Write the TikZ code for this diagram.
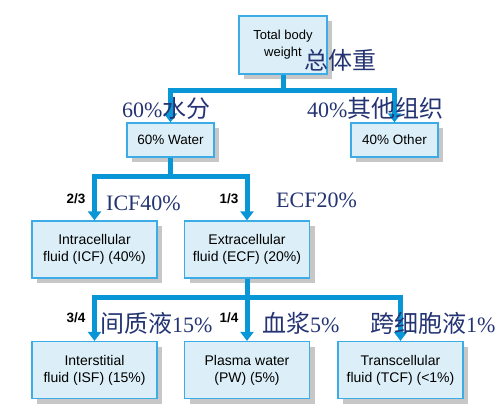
\documentclass[tikz,border=0pt]{standalone}
\usepackage{fontspec}
\setmainfont{Liberation Serif}
\setsansfont{Liberation Sans}
\newfontfamily\cjk[Scale=1.09]{Noto Sans CJK SC}
\usetikzlibrary{arrows.meta,shadows}
\definecolor{linkblue}{RGB}{8,150,215}
\definecolor{boxline}{RGB}{60,172,230}
\definecolor{boxfill}{RGB}{220,239,248}
\definecolor{zhnavy}{RGB}{36,52,115}
\tikzset{
  fluid/.style={
    draw=boxline, line width=1.2pt, fill=boxfill,
    align=center, inner sep=2pt,
    font=\sffamily\fontsize{14}{17}\selectfont,
    drop shadow={shadow xshift=5pt, shadow yshift=-5pt, fill=black!22, opacity=1}
  },
  small fluid/.style={fluid, minimum width=87pt, minimum height=34pt,
    font=\sffamily\fontsize{13.5}{17}\selectfont},
  big fluid/.style={fluid, minimum width=125pt, minimum height=57pt},
  split/.style={draw=linkblue, line width=5pt, -{Triangle[width=13pt,length=9pt]}},
  ratio/.style={inner sep=0pt, font=\sffamily\bfseries\fontsize{13.5}{13.5}\selectfont},
  zh/.style={text=zhnavy, anchor=west, inner sep=0pt, font=\fontsize{22}{22}\selectfont}
}

\begin{document}
\begin{tikzpicture}[x=1pt,y=-1pt]
\useasboundingbox (0,0) rectangle (498,408);
% boxes
\node[fluid, minimum width=88pt, minimum height=58pt,
  font=\sffamily\fontsize{13}{17}\selectfont] (total) at (283,45) {Total body\\weight};
\node[small fluid] (water) at (170.5,140) {60\% Water};
\node[small fluid] (other) at (394.5,140) {40\% Other};
\node[big fluid] (icf) at (94.5,249.5) {Intracellular\\fluid (ICF) (40\%)};
\node[big fluid] (ecf) at (247,249.5) {Extracellular\\fluid (ECF) (20\%)};
\node[big fluid] (isf) at (94.5,370) {Interstitial\\fluid (ISF) (15\%)};
\node[big fluid] (pw) at (247,370) {Plasma water\\(PW) (5\%)};
\node[big fluid] (tcf) at (400.5,370) {Transcellular\\fluid (TCF) (<1\%)};
% splits
\draw[split] (total.south) -- ++(0,16) -| (water.north);
\draw[split] (total.south) -- ++(0,16) -| (other.north);
\draw[split] (water.south) -- ++(0,19) -| (icf.north);
\draw[split] (water.south) -- ++(0,19) -| (ecf.north);
\draw[split] (ecf.south) -- ++(0,19) -| (isf.north);
\draw[split] (ecf.south) -- ++(0,19) -| (pw.north);
\draw[split] (ecf.south) -- ++(0,19) -| (tcf.north);
% ratios
\node[ratio] (r23) at (76,199) {2/3};
\node[ratio] (r13) at (229,199) {1/3};
\node[ratio] (r34) at (76,318) {3/4};
\node[ratio] (r14) at (229,318) {1/4};
% chinese notes
\node[zh] (zhtotal) at (304,60) {{\cjk 总体重}};
\node[zh] (zhwater) at (122,108) {60\%{\cjk 水分}};
\node[zh] (zhother) at (307,108) {40\%{\cjk 其他组织}};
\node[zh] (zhicf) at (106,203) {ICF40\%};
\node[zh] (zhecf) at (276,200) {ECF20\%};
\node[zh] (zhisf) at (100,323) {{\cjk 间质液}15\%};
\node[zh] (zhpw) at (262,323) {{\cjk 血浆}5\%};
\node[zh] (zhtcf) at (370,323) {{\cjk 跨细胞液}1\%};
\end{tikzpicture}
\end{document}
